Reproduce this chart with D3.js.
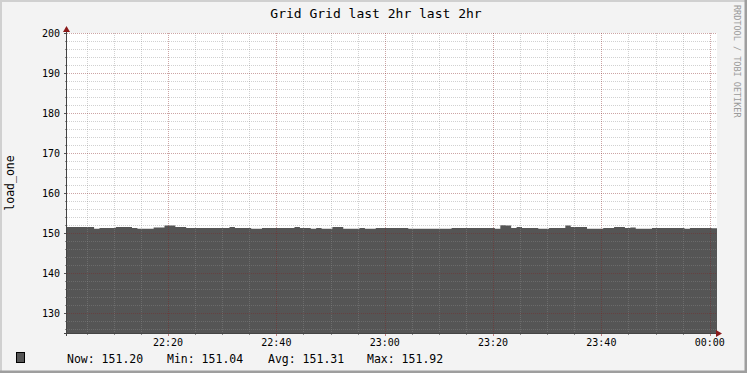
<!DOCTYPE html>
<html>
<head>
<meta charset="utf-8">
<script src="https://cdn.jsdelivr.net/npm/d3@7"></script>
<style>
  body { margin: 0; background: #f3f3f3; }
  svg { display: block; }
  text { font-family: "DejaVu Sans Mono", monospace; }
</style>
</head>
<body>
<div id="vis"></div>
<script>
const width = 747;
const height = 373;

// one value per minute, 22:01:21 -> 00:01:21
const loadOne = [
  151.5, 151.5, 151.5, 151.5, 151.5, 151.05, 151.25, 151.25, 151.25, 151.5,
  151.5, 151.5, 151.25, 151.05, 151.05, 151.05, 151.4, 151.4, 151.85, 151.85,
  151.5, 151.5, 151.25, 151.25, 151.25, 151.25, 151.25, 151.25, 151.25, 151.25,
  151.5, 151.25, 151.25, 151.25, 151.05, 151.05, 151.25, 151.25, 151.25, 151.25,
  151.25, 151.25, 151.5, 151.25, 151.25, 151.05, 151.25, 151.05, 151.05, 151.5,
  151.5, 151.05, 151.05, 151.05, 151.25, 151.05, 151.05, 151.25, 151.25, 151.25,
  151.25, 151.25, 151.25, 151.05, 151.05, 151.05, 151.05, 151.05, 151.05, 151.05,
  151.05, 151.25, 151.25, 151.25, 151.25, 151.25, 151.25, 151.25, 151.25, 151.05,
  151.92, 151.85, 151.25, 151.5, 151.25, 151.25, 151.25, 151.05, 151.05, 151.25,
  151.25, 151.25, 151.85, 151.5, 151.5, 151.5, 151.05, 151.05, 151.05, 151.25,
  151.25, 151.5, 151.5, 151.25, 151.4, 151.05, 151.05, 151.05, 151.25, 151.25,
  151.25, 151.25, 151.25, 151.25, 151.05, 151.25, 151.25, 151.25, 151.25, 151.2
];
const yTicks = [130, 140, 150, 160, 170, 180, 190, 200];
const legendItems = ["Now: 151.20", "Min: 151.04", "Avg: 151.31", "Max: 151.92"];
const title = "Grid Grid last 2hr last 2hr";
const yLabel = "load_one";
const watermark = "RRDTOOL / TOBI OETIKER";

const start = new Date(2024, 0, 1, 22, 1, 21);
const end = new Date(2024, 0, 2, 0, 1, 21);
const points = loadOne.map((v, i) => ({ t: new Date(+start + i * 60000), v }));
points.push({ t: end, v: loadOne[loadOne.length - 1] });

const pLeft = 67, pRight = 717, pTop = 33, pBottom = 333;

const x = d3.scaleTime().domain([start, end]).range([pLeft, pRight]);
const y = d3.scaleLinear().domain([125, 200]).range([pBottom, pTop]);

const svg = d3.select("#vis").append("svg")
  .attr("width", width)
  .attr("height", height);

// background + shaded frame
svg.append("rect").attr("width", width).attr("height", height).attr("fill", "#f3f3f3");
svg.append("path").attr("d", `M0,${height}V0H${width}`).attr("fill", "none")
  .attr("stroke", "#d0d0d0").attr("stroke-width", 4);
svg.append("path").attr("d", `M0,${height - 1}H${width - 1}V0`).attr("fill", "none")
  .attr("stroke", "#9e9e9e").attr("stroke-width", 3);

svg.append("rect")
  .attr("x", pLeft).attr("y", pTop)
  .attr("width", pRight - pLeft).attr("height", pBottom - pTop)
  .attr("fill", "#ffffff");

// area
svg.append("path")
  .datum(points)
  .attr("fill", "#555555")
  .attr("d", d3.area()
    .curve(d3.curveStepAfter)
    .x(d => x(d.t))
    .y0(y(125))
    .y1(d => y(d.v)));

// grid
const minorColor = "rgba(140,140,140,0.4)";
const majorColor = "rgba(130,30,30,0.4)";
const minorY = d3.range(126, 201, 2).filter(v => v % 10 !== 0);
const minorX = d3.timeMinute.every(5).range(start, end).filter(d => d.getMinutes() % 20 !== 0);
const majorX = d3.timeMinute.every(20).range(start, new Date(+end + 1));

const grid = svg.append("g").attr("shape-rendering", "crispEdges");
grid.selectAll(".gy").data(minorY).enter().append("line")
  .attr("x1", pLeft).attr("x2", pRight)
  .attr("y1", d => Math.round(y(d)) + 0.5).attr("y2", d => Math.round(y(d)) + 0.5)
  .attr("stroke", minorColor).attr("stroke-dasharray", "1,1");
grid.selectAll(".gx").data(minorX).enter().append("line")
  .attr("x1", d => Math.round(x(d)) + 0.5).attr("x2", d => Math.round(x(d)) + 0.5)
  .attr("y1", pTop).attr("y2", pBottom)
  .attr("stroke", minorColor).attr("stroke-dasharray", "1,1");
grid.selectAll(".my").data(yTicks).enter().append("line")
  .attr("x1", pLeft).attr("x2", pRight)
  .attr("y1", d => Math.round(y(d)) + 0.5).attr("y2", d => Math.round(y(d)) + 0.5)
  .attr("stroke", majorColor).attr("stroke-dasharray", "1,1");
grid.selectAll(".mx").data(majorX).enter().append("line")
  .attr("x1", d => Math.round(x(d)) + 0.5).attr("x2", d => Math.round(x(d)) + 0.5)
  .attr("y1", pTop).attr("y2", pBottom)
  .attr("stroke", majorColor).attr("stroke-dasharray", "1,1");

// ticks on axes
const ticks = svg.append("g").attr("shape-rendering", "crispEdges");
ticks.selectAll(".ty").data(minorY).enter().append("line")
  .attr("x1", pLeft - 2).attr("x2", pLeft)
  .attr("y1", d => Math.round(y(d)) + 0.5).attr("y2", d => Math.round(y(d)) + 0.5)
  .attr("stroke", "#8c8c8c");
ticks.selectAll(".tmy").data(yTicks).enter().append("line")
  .attr("x1", pLeft - 3).attr("x2", pLeft)
  .attr("y1", d => Math.round(y(d)) + 0.5).attr("y2", d => Math.round(y(d)) + 0.5)
  .attr("stroke", "#555");
ticks.selectAll(".tx").data(minorX).enter().append("line")
  .attr("x1", d => Math.round(x(d)) + 0.5).attr("x2", d => Math.round(x(d)) + 0.5)
  .attr("y1", pBottom).attr("y2", pBottom + 2)
  .attr("stroke", "#8c8c8c");
ticks.selectAll(".tmx").data(majorX).enter().append("line")
  .attr("x1", d => Math.round(x(d)) + 0.5).attr("x2", d => Math.round(x(d)) + 0.5)
  .attr("y1", pBottom).attr("y2", pBottom + 3)
  .attr("stroke", "#c08080");

// axis lines + arrows
svg.append("line").attr("x1", pLeft - 3).attr("x2", pRight).attr("y1", pBottom + 0.5).attr("y2", pBottom + 0.5)
  .attr("stroke", "#444").attr("shape-rendering", "crispEdges");
svg.append("line").attr("x1", pLeft - 0.5).attr("x2", pLeft - 0.5).attr("y1", pTop - 2).attr("y2", pBottom + 3)
  .attr("stroke", "#444").attr("shape-rendering", "crispEdges");
svg.append("path").attr("d", `M${pRight - 1},${pBottom - 3}L${pRight + 5},${pBottom + 0.5}L${pRight - 1},${pBottom + 4}Z`)
  .attr("fill", "#8b1a1a");
svg.append("path").attr("d", `M${pLeft - 4},${pTop - 1}L${pLeft - 0.5},${pTop - 7}L${pLeft + 3},${pTop - 1}Z`)
  .attr("fill", "#8b1a1a");

// y labels
svg.selectAll(".ylab").data(yTicks).enter().append("text")
  .attr("x", 60).attr("y", d => y(d) + 4)
  .attr("text-anchor", "end").attr("font-size", "10px").attr("fill", "#000")
  .text(d => d);

// x labels
svg.selectAll(".xlab").data(majorX).enter().append("text")
  .attr("x", d => x(d)).attr("y", 346)
  .attr("text-anchor", "middle").attr("font-size", "10px").attr("fill", "#000")
  .text(d => d3.timeFormat("%H:%M")(d));

// title
svg.append("text")
  .attr("x", 376).attr("y", 18)
  .attr("text-anchor", "middle").attr("font-size", "13px").attr("fill", "#000")
  .text(title);

// y axis title
svg.append("text")
  .attr("transform", `translate(14,${(pTop + pBottom) / 2}) rotate(-90)`)
  .attr("text-anchor", "middle").attr("font-size", "11.5px").attr("fill", "#000")
  .text(yLabel);

// watermark
svg.append("text")
  .attr("transform", "translate(734,5) rotate(90)")
  .attr("text-anchor", "start").attr("font-size", "8.5px").attr("fill", "#9a9a9a")
  .text(watermark);

// legend
svg.append("rect")
  .attr("x", 16.5).attr("y", 352.5).attr("width", 8).attr("height", 10)
  .attr("fill", "#555555").attr("stroke", "#000");
const legendX = [67, 167, 268, 367];
svg.selectAll(".leg").data(legendItems).enter().append("text")
  .attr("x", (d, i) => legendX[i]).attr("y", 363)
  .attr("font-size", "11.5px").attr("fill", "#000")
  .text(d => d);
</script>
</body>
</html>
